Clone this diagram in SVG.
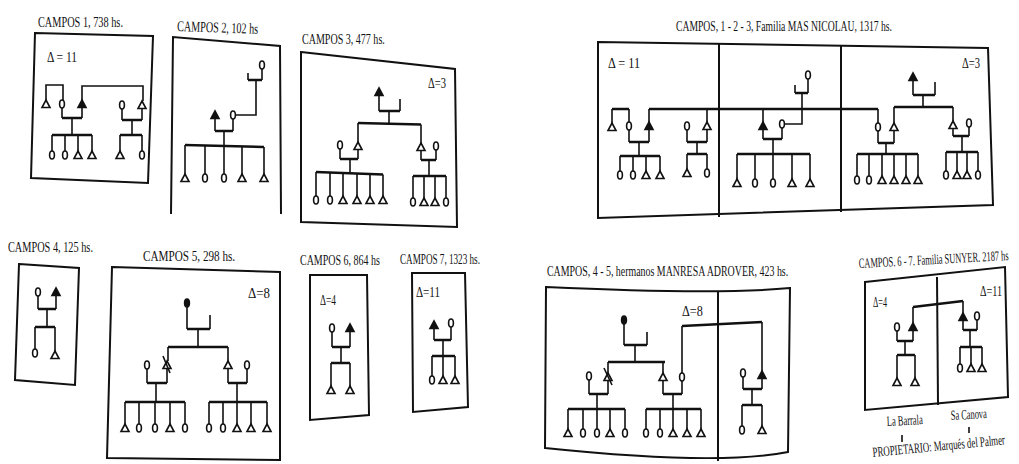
<svg xmlns="http://www.w3.org/2000/svg" xmlns:xlink="http://www.w3.org/1999/xlink" width="1019" height="464" viewBox="0 0 1019 464">
<style>
.f{fill:none;stroke:#111;stroke-width:2}
.l{fill:none;stroke:#111;stroke-width:1.6}
.b{fill:none;stroke:#111;stroke-width:2.6}
.d{font-family:"Liberation Serif",serif;font-size:15px;fill:#111}
.s{font-family:"Liberation Serif",serif;font-size:14px;fill:#111}
</style>
<defs>
<path id="T" d="M0,-4 L4,3.5 L-4,3.5 Z" fill="#fff" stroke="#111" stroke-width="1.6"/>
<path id="TF" d="M0,-4 L4,3.5 L-4,3.5 Z" fill="#111" stroke="#111" stroke-width="1.6"/>
<ellipse id="C" cx="0" cy="0" rx="2.4" ry="4" fill="#fff" stroke="#111" stroke-width="1.6"/>
<ellipse id="CF" cx="0" cy="0" rx="2.4" ry="4" fill="#111" stroke="#111" stroke-width="1.6"/>
</defs>
<rect width="1019" height="464" fill="#fff"/>

<g id="connectors">
<path class="l" d="M46,100V85H63V100 M82,100V86H143V101 M62,108V118 M82,108V118 M72,118V135 M52,135V151 M65,135V151 M78,135V151 M92,135V151 M122,109V120 M142,109V120 M132,120V135 M120,135V151 M142,135V151"/>
<path class="b" d="M62,118H82 M52,135H92 M122,120H142 M120,135H142"/>
<path class="l" d="M262,69V80 M248,73V80 M256,80V115H235.5 M215,119V131 M233,119V131 M224,131V146 M185,145V174 M205,145.5V174 M224,146V174 M242,146.5V174 M264,147V174"/>
<path class="b" d="M248,80H262 M215,131H233 M185,145L264,147"/>
<path class="l" d="M379,96V111 M400,99V111 M389,111V123 M358,123V142 M421,124.5V143 M340,149V159 M358,150V159 M350,159V172.5 M316,172V196 M330,172.5V196 M343,173V196 M357,173.5V196 M370,174V196 M383,174.5V196 M421,151V160 M436,150V160 M429,160V176 M413,176V198 M424,176V198 M435,176V198 M446,176V198"/>
<path class="b" d="M379,111H400 M358,123L421,124.5 M340,159H358 M316,172L383,174.5 M421,160H436 M413,176H446"/>
<path class="l" d="M612,123V109 M629,122V109 M649,122V109 M707,122V109 M763,122V109 M878,123V109 M629,130V142 M649,130V142 M639,142V156 M620,156V171 M633,156V171 M646,156V171 M660,156V171 M687,130V142 M707,130V142 M697,142V154 M687,154V169 M707,154V169 M808,79V93 M795,85V93 M802,93V124H784.5 M763,130V139 M782,128V139 M773,139V154 M737,154V179 M755,154V179 M773,154V179 M792,154V179 M810,154V179 M913,81V95 M935,82V95 M923,95V107 M894,107V123 M953,107V121 M878,131V143 M894,131V143 M886,143V154 M857,154V176 M869,154V176 M882,154V176 M894,154V176 M906,154V176 M918,154V176 M953,129V136 M969,127V136 M962,136V152 M946,152V171 M957,152V171 M967,152V171 M978,152V171"/>
<path class="b" d="M612,109H629 M649,109H878 M629,142H649 M620,156H660 M687,142H707 M687,154H707 M795,93H808 M763,139H782 M737,154H810 M913,95H935 M894,107H953 M878,143H894 M857,154H918 M953,136H969 M946,152H978"/>
<path class="l" d="M38,296V309 M56,296V309 M47,309V327 M35,327V349 M55,327V351"/>
<path class="b" d="M38,309H56 M35,327H55"/>
<path class="l" d="M187,307V329 M210,315V329 M198,329V347 M168,347V361 M228,347V361 M147,369V383 M167,369V383 M156,383V402 M125,402V424 M139,402V424 M155,402V424 M170,402V424 M185,402V424 M228,369V383 M247,369V383 M237,383V402 M209,402V424 M223,402V424 M237,402V424 M251,402V424 M267,402V424"/>
<path class="b" d="M187,329H210 M168,347H228 M147,383H167 M125,402H185 M228,383H247 M209,402H267"/>
<path class="l" d="M332,332V347 M350,332V347 M341,347V363 M331,363V386 M350,363V386"/>
<path class="b" d="M332,347H350 M331,363H350"/>
<path class="l" d="M434,329V340 M451,327V340 M443,340V356 M432,356V376 M443,356V376 M455,356V376"/>
<path class="b" d="M434,340H451 M432,356H455"/>
<path class="l" d="M624,324V345 M647,332V345 M635,345V362 M608,362V373 M663,362V373 M589,380V394 M608,381V394 M597,394V409 M568,409V429 M583,409V429 M597,409V429 M610,409V429 M625,409V429 M663,381V394 M682,381V394 M673,394V409 M646,409V429 M660,409V429 M673,409V429 M687,409V429 M701,409V429 M682,373V326 M762,322V371 M743,377V389 M762,379V389 M752,389V405 M742,405V426 M762,405V426"/>
<path class="b" d="M624,345H647 M608,362H665 M589,394H608 M568,409H625 M663,394H682 M646,409H701 M682,326L762,322 M743,389H762 M742,405H762"/>
<path class="l" d="M913,323V307 M963,301V313 M897,331V341 M913,331V341 M905,341V355 M897,355V378 M915,355V378 M963,321V330 M977,320V330 M970,330V347 M960,347V364 M971,347V364 M982,347V364 M902,435V442 M969,427V433"/>
<path class="b" d="M913,307L963,301 M897,341H913 M897,355H915 M963,330H977 M960,347H982"/>
</g>

<g id="campos1">
<polygon class="f" points="35,33 153,36 148,183 31,178"/>
<text class="d" transform="translate(38,27) scale(0.72,1)" textLength="118" lengthAdjust="spacingAndGlyphs">CAMPOS 1, 738 hs.</text>
<text class="s" transform="translate(47,62) scale(0.8,1)" textLength="37.5" lengthAdjust="spacingAndGlyphs">Δ = 11</text>
<use xlink:href="#T" x="46" y="104"/><use xlink:href="#C" x="62" y="104"/><use xlink:href="#TF" x="82" y="104"/>
<use xlink:href="#C" x="122" y="105"/><use xlink:href="#T" x="142" y="105"/>
<use xlink:href="#C" x="52" y="155"/><use xlink:href="#C" x="65" y="155"/><use xlink:href="#T" x="78" y="155"/><use xlink:href="#T" x="92" y="155"/>
<use xlink:href="#T" x="120" y="155"/><use xlink:href="#C" x="142" y="155"/>
</g>

<g id="campos2">
<polyline class="f" points="171,214 173,37 280,46 281,214"/>
<text class="d" transform="translate(177,31) rotate(2) scale(0.72,1)" textLength="112.5" lengthAdjust="spacingAndGlyphs">CAMPOS 2, 102 hs</text>
<use xlink:href="#C" x="262" y="65"/>
<use xlink:href="#TF" x="215" y="115"/><use xlink:href="#C" x="233" y="115"/>
<use xlink:href="#T" x="185" y="178"/><use xlink:href="#C" x="205" y="178"/><use xlink:href="#C" x="224" y="178"/><use xlink:href="#T" x="242" y="178"/><use xlink:href="#T" x="264" y="178"/>
</g>

<g id="campos3">
<polygon class="f" points="301,52 455,69 457,227 301,222"/>
<text class="d" transform="translate(302,44) scale(0.72,1)" textLength="115" lengthAdjust="spacingAndGlyphs">CAMPOS 3, 477 hs.</text>
<text class="s" transform="translate(428,88) scale(0.8,1)" textLength="22.5" lengthAdjust="spacingAndGlyphs">Δ=3</text>
<use xlink:href="#TF" x="379" y="92"/>
<use xlink:href="#C" x="340" y="145"/><use xlink:href="#T" x="358" y="146"/>
<use xlink:href="#T" x="421" y="147"/><use xlink:href="#C" x="436" y="146"/>
<use xlink:href="#C" x="316" y="200"/><use xlink:href="#C" x="330" y="200"/><use xlink:href="#T" x="343" y="200"/><use xlink:href="#T" x="357" y="200"/><use xlink:href="#T" x="370" y="200"/><use xlink:href="#T" x="383" y="200"/>
<use xlink:href="#C" x="413" y="202"/><use xlink:href="#T" x="424" y="202"/><use xlink:href="#T" x="435" y="202"/><use xlink:href="#C" x="446" y="202"/>
</g>

<g id="campos123">
<polygon class="f" points="598,42 988,48 993,205 598,218"/>
<path class="f" d="M719,44V217 M841,46V212"/>
<text class="d" transform="translate(676,31) scale(0.72,1)" textLength="300" lengthAdjust="spacingAndGlyphs">CAMPOS, 1 - 2 - 3, Familia MAS NICOLAU, 1317 hs.</text>
<text class="s" transform="translate(608,68) scale(0.8,1)" textLength="40" lengthAdjust="spacingAndGlyphs">Δ = 11</text>
<text class="s" transform="translate(962,68) scale(0.8,1)" textLength="22.5" lengthAdjust="spacingAndGlyphs">Δ=3</text>
<use xlink:href="#T" x="612" y="127"/><use xlink:href="#C" x="629" y="126"/><use xlink:href="#TF" x="649" y="126"/>
<use xlink:href="#C" x="687" y="126"/><use xlink:href="#T" x="707" y="126"/>
<use xlink:href="#C" x="620" y="175"/><use xlink:href="#C" x="633" y="175"/><use xlink:href="#T" x="646" y="175"/><use xlink:href="#T" x="660" y="175"/>
<use xlink:href="#T" x="687" y="173"/><use xlink:href="#C" x="707" y="173"/>
<use xlink:href="#C" x="808" y="75"/>
<use xlink:href="#TF" x="763" y="126"/><use xlink:href="#C" x="782" y="124"/>
<use xlink:href="#T" x="737" y="183"/><use xlink:href="#C" x="755" y="183"/><use xlink:href="#C" x="773" y="183"/><use xlink:href="#T" x="792" y="183"/><use xlink:href="#T" x="810" y="183"/>
<use xlink:href="#TF" x="913" y="77"/>
<use xlink:href="#C" x="878" y="127"/><use xlink:href="#T" x="894" y="127"/>
<use xlink:href="#T" x="953" y="125"/><use xlink:href="#C" x="969" y="123"/>
<use xlink:href="#C" x="857" y="180"/><use xlink:href="#C" x="869" y="180"/><use xlink:href="#T" x="882" y="180"/><use xlink:href="#T" x="894" y="180"/><use xlink:href="#T" x="906" y="180"/><use xlink:href="#T" x="918" y="180"/>
<use xlink:href="#C" x="946" y="175"/><use xlink:href="#T" x="957" y="175"/><use xlink:href="#T" x="967" y="175"/><use xlink:href="#C" x="978" y="175"/>
</g>

<g id="campos4">
<polygon class="f" points="19,264 79,268 75,385 15,380"/>
<text class="d" transform="translate(8,252) scale(0.72,1)" textLength="118" lengthAdjust="spacingAndGlyphs">CAMPOS 4, 125 hs.</text>
<use xlink:href="#C" x="38" y="292"/><use xlink:href="#TF" x="56" y="292"/>
<use xlink:href="#C" x="35" y="353"/><use xlink:href="#T" x="55" y="355"/>
</g>

<g id="campos5">
<polygon class="f" points="112,267 280,272 280,460 107,458"/>
<text class="d" transform="translate(143,261) scale(0.72,1)" textLength="128" lengthAdjust="spacingAndGlyphs">CAMPOS 5, 298 hs.</text>
<text class="s" transform="translate(248,298) scale(0.8,1)" textLength="27.5" lengthAdjust="spacingAndGlyphs">Δ=8</text>
<use xlink:href="#CF" x="187" y="303"/>
<use xlink:href="#C" x="147" y="365"/><use xlink:href="#T" x="167" y="365"/>
<path class="l" d="M163,356L170,373"/>
<use xlink:href="#T" x="228" y="365"/><use xlink:href="#C" x="247" y="365"/>
<use xlink:href="#T" x="125" y="428"/><use xlink:href="#C" x="139" y="428"/><use xlink:href="#C" x="155" y="428"/><use xlink:href="#T" x="170" y="428"/><use xlink:href="#C" x="185" y="428"/>
<use xlink:href="#C" x="209" y="428"/><use xlink:href="#C" x="223" y="428"/><use xlink:href="#T" x="237" y="428"/><use xlink:href="#T" x="251" y="428"/><use xlink:href="#T" x="267" y="428"/>
</g>

<g id="campos6">
<polygon class="f" points="310,275 367,275 369,415 310,420"/>
<text class="d" transform="translate(300,265) scale(0.72,1)" textLength="111" lengthAdjust="spacingAndGlyphs">CAMPOS 6, 864 hs</text>
<text class="s" transform="translate(320,305) scale(0.8,1)" textLength="20" lengthAdjust="spacingAndGlyphs">Δ=4</text>
<use xlink:href="#C" x="332" y="328"/><use xlink:href="#TF" x="350" y="328"/>
<use xlink:href="#T" x="331" y="390"/><use xlink:href="#T" x="350" y="390"/>
</g>

<g id="campos7">
<polygon class="f" points="412,273 465,273 468,407 413,412"/>
<text class="d" transform="translate(400,264) scale(0.72,1)" textLength="111" lengthAdjust="spacingAndGlyphs">CAMPOS 7, 1323 hs.</text>
<text class="s" transform="translate(416,297) scale(0.8,1)" textLength="30" lengthAdjust="spacingAndGlyphs">Δ=11</text>
<use xlink:href="#TF" x="434" y="325"/><use xlink:href="#C" x="451" y="323"/>
<use xlink:href="#C" x="432" y="380"/><use xlink:href="#T" x="443" y="380"/><use xlink:href="#T" x="455" y="380"/>
</g>

<g id="campos45">
<path class="f" d="M546,287 Q718,295 790,288 L788,452 Q718,466 545,448 Z"/>
<path class="f" d="M718,291V461"/>
<text class="d" transform="translate(547,276) scale(0.72,1)" textLength="335" lengthAdjust="spacingAndGlyphs">CAMPOS, 4 - 5, hermanos MANRESA ADROVER, 423 hs.</text>
<text class="s" transform="translate(682,316) scale(0.8,1)" textLength="26" lengthAdjust="spacingAndGlyphs">Δ=8</text>
<use xlink:href="#CF" x="624" y="320"/>
<use xlink:href="#C" x="589" y="376"/><use xlink:href="#T" x="608" y="377"/>
<path class="l" d="M604,368L612,385"/>
<use xlink:href="#T" x="663" y="377"/><use xlink:href="#C" x="682" y="377"/>
<use xlink:href="#T" x="568" y="433"/><use xlink:href="#C" x="583" y="433"/><use xlink:href="#C" x="597" y="433"/><use xlink:href="#T" x="610" y="433"/><use xlink:href="#C" x="625" y="433"/>
<use xlink:href="#C" x="646" y="433"/><use xlink:href="#C" x="660" y="433"/><use xlink:href="#T" x="673" y="433"/><use xlink:href="#T" x="687" y="433"/><use xlink:href="#T" x="701" y="433"/>
<use xlink:href="#C" x="743" y="373"/><use xlink:href="#TF" x="762" y="375"/>
<use xlink:href="#C" x="742" y="430"/><use xlink:href="#T" x="762" y="430"/>
</g>

<g id="campos67">
<polygon class="f" points="865,282 1005,267 1008,397 865,410"/>
<path class="f" d="M937,277L938,405"/>
<text class="s" transform="translate(859,268) rotate(-3) scale(0.6,1)" textLength="250" lengthAdjust="spacingAndGlyphs">CAMPOS. 6 - 7. Familia SUNYER. 2187 hs</text>
<text class="s" transform="translate(873,307) scale(0.8,1)" textLength="17.5" lengthAdjust="spacingAndGlyphs">Δ=4</text>
<text class="s" transform="translate(980,296) scale(0.8,1)" textLength="27.5" lengthAdjust="spacingAndGlyphs">Δ=11</text>
<use xlink:href="#C" x="897" y="327"/><use xlink:href="#TF" x="913" y="327"/>
<use xlink:href="#T" x="897" y="382"/><use xlink:href="#T" x="915" y="382"/>
<use xlink:href="#TF" x="963" y="317"/><use xlink:href="#C" x="977" y="316"/>
<use xlink:href="#C" x="960" y="368"/><use xlink:href="#T" x="971" y="368"/><use xlink:href="#T" x="982" y="368"/>
<text class="s" transform="translate(887,426) rotate(-3) scale(0.72,1)" textLength="50" lengthAdjust="spacingAndGlyphs">La Barrala</text>
<text class="s" transform="translate(951,420) rotate(-3) scale(0.72,1)" textLength="50" lengthAdjust="spacingAndGlyphs">Sa Canova</text>
<text class="s" transform="translate(873,457) rotate(-5.5) scale(0.63,1)" textLength="211" lengthAdjust="spacingAndGlyphs">PROPIETARIO: Marqués del Palmer</text>
</g>
</svg>
